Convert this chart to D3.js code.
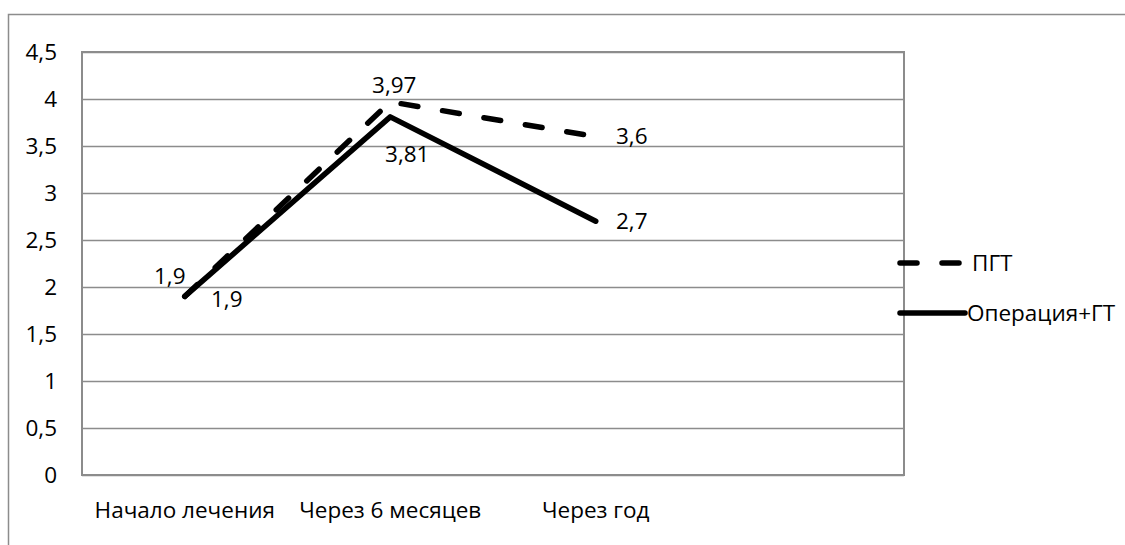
<!DOCTYPE html>
<html>
<head>
<meta charset="utf-8">
<script src="https://cdn.jsdelivr.net/npm/d3@7"></script>
<style>
  html, body { margin: 0; padding: 0; background: #fff; }
  svg text { font-family: "Open Sans", sans-serif; fill: #000; }
</style>
</head>
<body>
<svg id="chart" width="1125" height="545"></svg>
<script>
// Categories along the x axis (the fourth slot is left empty)
const categories = ["Начало лечения", "Через 6 месяцев", "Через год", ""];
// Series values
const pgtValues = [1.9, 3.97, 3.6];
const opValues = [1.9, 3.81, 2.7];
const seriesNames = ["ПГТ", "Операция+ГТ"];
// Y axis ticks
const yTicks = [0, 0.5, 1, 1.5, 2, 2.5, 3, 3.5, 4, 4.5];
const yTickLabels = ["0", "0,5", "1", "1,5", "2", "2,5", "3", "3,5", "4", "4,5"];

const svg = d3.select("#chart");
const plot = { left: 82, top: 52, right: 904, bottom: 475 };
const fmt = v => String(v).replace(".", ",");
const fontSize = "22.5px";

// Outer chart frame
svg.append("rect")
  .attr("x", 8.5).attr("y", 14.5)
  .attr("width", 1200).attr("height", 600)
  .attr("fill", "none").attr("stroke", "#8c8c8c").attr("stroke-width", 1.5);

const x = d3.scaleBand().domain(categories.map((c, i) => i))
  .range([plot.left, plot.right]).paddingInner(0).paddingOuter(0);
const xc = i => x(i) + x.bandwidth() / 2;
const y = d3.scaleLinear().domain([0, 4.5]).range([plot.bottom, plot.top]);

// Horizontal gridlines
svg.append("g").selectAll("line").data(yTicks).join("line")
  .attr("x1", plot.left).attr("x2", plot.right)
  .attr("y1", d => Math.round(y(d)) + 0.5).attr("y2", d => Math.round(y(d)) + 0.5)
  .attr("stroke", "#8c8c8c").attr("stroke-width", 1.5);

// Plot area border
svg.append("rect")
  .attr("x", plot.left).attr("y", plot.top)
  .attr("width", plot.right - plot.left).attr("height", plot.bottom - plot.top)
  .attr("fill", "none").attr("stroke", "#8c8c8c").attr("stroke-width", 2);

// Y axis labels
svg.append("g").selectAll("text").data(yTicks).join("text")
  .attr("x", 57).attr("y", d => y(d))
  .attr("dy", "0.35em").attr("text-anchor", "end")
  .style("font-size", fontSize)
  .text((d, i) => yTickLabels[i]);

// X axis labels
svg.append("g").selectAll("text").data(categories).join("text")
  .attr("x", (d, i) => xc(i)).attr("y", 518)
  .attr("text-anchor", "middle")
  .style("font-size", fontSize)
  .text(d => d);

const line = d3.line().x((d, i) => xc(i)).y(d => y(d));

// Операция+ГТ (solid)
svg.append("path").datum(opValues)
  .attr("d", line).attr("fill", "none")
  .attr("stroke", "#000").attr("stroke-width", 5.5)
  .attr("stroke-linecap", "round").attr("stroke-linejoin", "round");

// ПГТ (dashed)
svg.append("path").datum(pgtValues)
  .attr("d", line).attr("fill", "none")
  .attr("stroke", "#000").attr("stroke-width", 5.5)
  .attr("stroke-dasharray", "17,25")
  .attr("stroke-linecap", "round").attr("stroke-linejoin", "round");

// Data labels
const pgtOffsets = [[-15, -20], [4, -17], [36, 0]];
const opOffsets = [[42, 3], [17, 37], [36, 0]];
svg.append("g").selectAll("text").data(pgtValues).join("text")
  .attr("x", (d, i) => xc(i) + pgtOffsets[i][0])
  .attr("y", (d, i) => y(d) + pgtOffsets[i][1])
  .attr("dy", "0.35em").attr("text-anchor", "middle")
  .style("font-size", fontSize)
  .text(d => fmt(d));
svg.append("g").selectAll("text").data(opValues).join("text")
  .attr("x", (d, i) => xc(i) + opOffsets[i][0])
  .attr("y", (d, i) => y(d) + opOffsets[i][1])
  .attr("dy", "0.35em").attr("text-anchor", "middle")
  .style("font-size", fontSize)
  .text(d => fmt(d));

// Legend
const legend = svg.append("g");
const legendY = [263, 313];
legend.append("line")
  .attr("x1", 900).attr("x2", 962).attr("y1", legendY[0]).attr("y2", legendY[0])
  .attr("stroke", "#000").attr("stroke-width", 5.5)
  .attr("stroke-dasharray", "17,25").attr("stroke-linecap", "round");
legend.append("line")
  .attr("x1", 900).attr("x2", 965).attr("y1", legendY[1]).attr("y2", legendY[1])
  .attr("stroke", "#000").attr("stroke-width", 5.5).attr("stroke-linecap", "round");
legend.append("text").attr("x", 972).attr("y", legendY[0]).attr("dy", "0.35em")
  .style("font-size", fontSize).text(seriesNames[0]);
legend.append("text").attr("x", 967).attr("y", legendY[1]).attr("dy", "0.35em")
  .style("font-size", fontSize).text(seriesNames[1]);
</script>
</body>
</html>
